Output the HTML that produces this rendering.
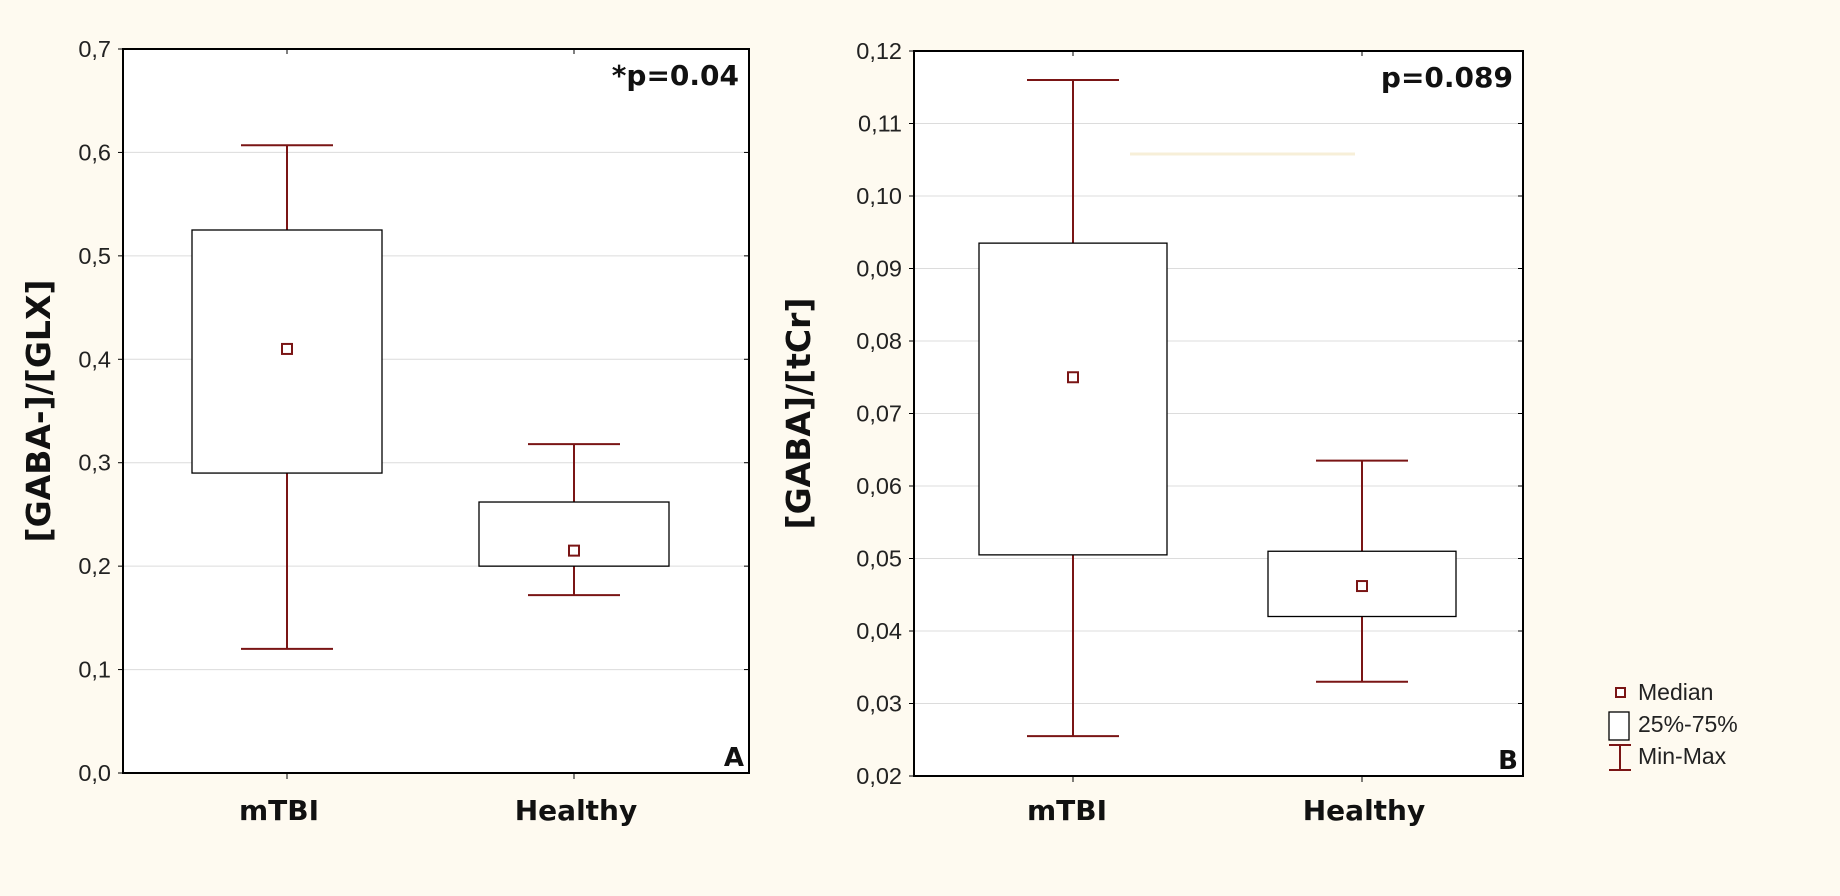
<!DOCTYPE html>
<html><head><meta charset="utf-8"><style>
html,body{margin:0;padding:0;background:#fefaf0;}
svg{display:block;}
text{font-family:"Liberation Sans",sans-serif;}
.b{font-family:"DejaVu Sans","Liberation Sans",sans-serif;font-weight:bold;}
</style></head><body>
<svg id="s" width="1840" height="896" viewBox="0 0 1840 896">
<rect width="1840" height="896" fill="#fefaf0"/>
</svg>
<script>
const categories=["mTBI","Healthy"];
const aMin=[0.12,0.172],aQ1=[0.29,0.2],aMed=[0.41,0.215],aQ3=[0.525,0.262],aMax=[0.607,0.318];
const aTicks=["0,0","0,1","0,2","0,3","0,4","0,5","0,6","0,7"];
const bMin=[0.0255,0.033],bQ1=[0.0505,0.042],bMed=[0.075,0.0462],bQ3=[0.0935,0.051],bMax=[0.116,0.0635];
const bTicks=["0,02","0,03","0,04","0,05","0,06","0,07","0,08","0,09","0,10","0,11","0,12"];
const S=document.getElementById('s'),NS="http://www.w3.org/2000/svg";
function el(t,a,p){const e=document.createElementNS(NS,t);for(const k in a)e.setAttribute(k,a[k]);(p||S).appendChild(e);return e;}
const RED="#7a1515";
function panel(o){
 const g=el('g',{});
 
 
 const y=v=>o.B-(v-o.y0)/(o.y1-o.y0)*(o.B-o.T);
 const x=i=>o.cx[i];
 el('rect',{x:o.L,y:o.T,width:o.R-o.L,height:o.B-o.T,fill:"#fff"},g);
 o.ticks.forEach((t,i)=>{const v=o.y0+i*o.step,yy=y(v);
  if(i>0&&i<o.ticks.length-1){const gl=el('line',{x1:o.L,x2:o.R,y1:yy,y2:yy,stroke:"#dcdcdc","stroke-width":1},g);
  }
  el('line',{x1:o.L-5,x2:o.L,y1:yy,y2:yy,stroke:"#000"},g);
  el('line',{x1:o.R-5,x2:o.R,y1:yy,y2:yy,stroke:"#000"},g);
  const tx=el('text',{x:o.tx,y:yy+8,"text-anchor":"end","font-size":23.5,fill:"#222"},g);tx.textContent=t;
  
 });
 if(o.faint){el('line',{x1:1130,x2:1355,y1:154,y2:154,stroke:"#f7efd8","stroke-width":3},g);}
 categories.forEach((c,i)=>{
  el('line',{x1:x(i),x2:x(i),y1:o.B,y2:o.B+6,stroke:"#000"},g);
  el('line',{x1:x(i),x2:x(i),y1:o.T,y2:o.T+5,stroke:"#000"},g);
  const w1=el('line',{x1:x(i),x2:x(i),y1:y(o.mx[i]),y2:y(o.q3[i]),stroke:RED,"stroke-width":2},g);
  
  const w2=el('line',{x1:x(i),x2:x(i),y1:y(o.q1[i]),y2:y(o.mn[i]),stroke:RED,"stroke-width":2},g);
  
  [o.mx[i],o.mn[i]].forEach(v=>{const cp=el('line',{x1:x(i)-46,x2:x(i)+46,y1:y(v),y2:y(v),stroke:RED,"stroke-width":2},g);
   });
  const bx=el('rect',{x:x(i)-o.hw,y:y(o.q3[i]),width:2*o.hw,height:y(o.q1[i])-y(o.q3[i]),fill:"#fff",stroke:"#000","stroke-width":1.3},g);
  
  const md=el('rect',{x:x(i)-5,y:y(o.md[i])-5,width:10,height:10,fill:"#fff",stroke:RED,"stroke-width":2},g);
  
  const xl=el('text',{x:o.lx[i],y:820,"text-anchor":"middle","font-size":28,class:"b",fill:"#111"},g);xl.textContent=c;
  
 });
 el('rect',{x:o.L,y:o.T,width:o.R-o.L,height:o.B-o.T,fill:"none",stroke:"#000","stroke-width":2},g);
 const yt=el('text',{transform:`translate(${o.ylx},${(o.T+o.B)/2}) rotate(-90)`,"text-anchor":"middle","font-size":33,class:"b",fill:"#111"},g);yt.textContent=o.ylab;
 
 const pt=el('text',{x:o.R-10,y:o.T+36,"text-anchor":"end","font-size":28,class:"b",fill:"#111"},g);pt.textContent=o.p;
 
 const lt=el('text',{x:o.R-5,y:o.B-7,"text-anchor":"end","font-size":26,class:"b",fill:"#111"},g);lt.textContent=o.letter;
 
}
panel({name:"panel-a",L:123,R:749,T:49,B:773,y0:0,y1:0.7,step:0.1,ticks:aTicks,cx:[287,574],lx:[279,576],hw:95,tx:111,
 mn:aMin,q1:aQ1,md:aMed,q3:aQ3,mx:aMax,ylab:"[GABA-]/[GLX]",ylx:50,p:"*p=0.04",letter:"A"});
panel({name:"panel-b",L:914,R:1523,T:51,B:776,y0:0.02,y1:0.12,step:0.01,ticks:bTicks,cx:[1073,1362],lx:[1067,1364],hw:94,tx:902,faint:true,
 mn:bMin,q1:bQ1,md:bMed,q3:bQ3,mx:bMax,ylab:"[GABA]/[tCr]",ylx:810,p:"p=0.089",letter:"B"});
const lg=el('g',{});


el('rect',{x:1616,y:688,width:9,height:9,fill:"#fff",stroke:RED,"stroke-width":2},lg);
el('rect',{x:1609,y:712,width:20,height:28,fill:"#fff",stroke:"#000","stroke-width":1.3},lg);
el('line',{x1:1620,x2:1620,y1:745,y2:770,stroke:RED,"stroke-width":2},lg);
el('line',{x1:1609,x2:1631,y1:745,y2:745,stroke:RED,"stroke-width":2},lg);
el('line',{x1:1609,x2:1631,y1:770,y2:770,stroke:RED,"stroke-width":2},lg);
[["Median",700],["25%-75%",732],["Min-Max",764]].forEach(([t,yy])=>{const e=el('text',{x:1638,y:yy,"font-size":23,fill:"#222"},lg);e.textContent=t;
 });
</script>
</body></html>
